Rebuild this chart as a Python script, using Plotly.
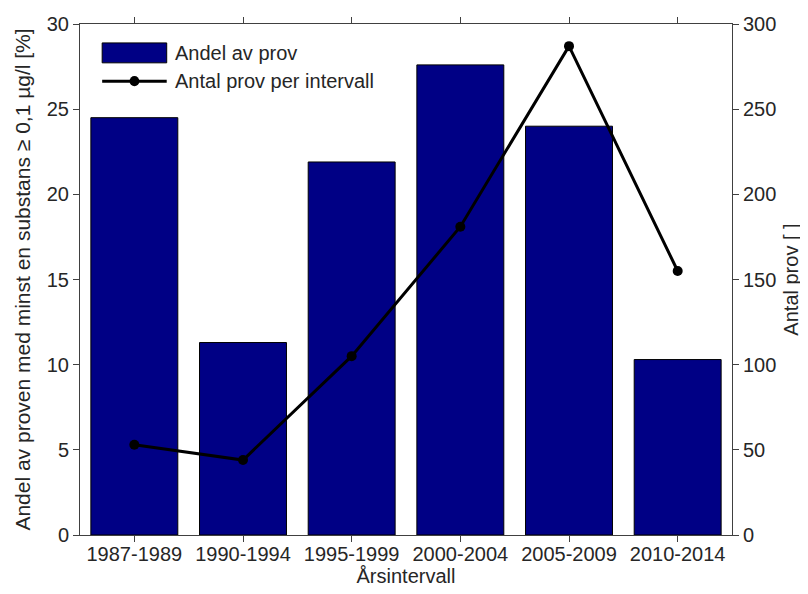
import plotly.graph_objects as go

# ---- data -------------------------------------------------------------------
intervals = [ '1987-1989', '1990-1994', '1995-1999', '2000-2004', '2005-2009', '2010-2014' ]
andel_pct = [ 24.5, 11.3, 21.9, 27.6, 24.0, 10.3 ]
antal_prov = [ 53, 44, 105, 181, 287, 155 ]

FONT = 'Liberation Sans, Arial, sans-serif'
TXT = '#262626'
AX = '#404040'
NAVY = '#000085'
FS = 20

fig = go.Figure( )

fig.add_bar(
  x = intervals,
  y = andel_pct,
  width = 0.8,
  marker = dict( color = NAVY, line = dict( color = 'black', width = 1 ) ),
  name = 'Andel av prov',
  showlegend = False
)

fig.add_scatter(
  x = intervals,
  y = antal_prov,
  yaxis = 'y2',
  mode = 'lines+markers',
  line = dict( color = 'black', width = 3 ),
  marker = dict( color = 'black', size = 10 ),
  name = 'Antal prov per intervall',
  showlegend = False
)

axis_common = dict(
  showline = True,
  linecolor = AX,
  linewidth = 1,
  ticks = 'outside',
  ticklen = 6,
  tickcolor = AX,
  showgrid = False,
  zeroline = False,
  automargin = False,
  tickfont = dict( family = FONT, size = FS, color = TXT ),
)

# page body has an 8px margin, so the figure is a little smaller than the window
fig.update_layout(
  width = 800,
  height = 586,
  margin = dict( l = 72, r = 76, t = 16, b = 59 ),
  paper_bgcolor = 'white',
  plot_bgcolor = 'white',
  font = dict( family = FONT, size = FS, color = TXT ),
  bargap = 0.2,
  xaxis = dict(
    **axis_common,
    mirror = 'ticks',
    ticklabelstandoff = -5,
    title = dict( text = 'Årsintervall', standoff = 0, font = dict( size = FS ) ),
  ),
  yaxis = dict(
    **axis_common,
    range = [ 0, 30 ],
    dtick = 5,
    title = dict( text = 'Andel av proven med minst en substans ≥ 0,1 µg/l [%]',
                  standoff = 10, font = dict( size = 21 ) ),
  ),
  yaxis2 = dict(
    **axis_common,
    overlaying = 'y',
    side = 'right',
    range = [ 0, 300 ],
    dtick = 50,
    title = dict( text = 'Antal prov [ ]', standoff = 8, font = dict( size = FS ) ),
  ),
)

# ---- legend drawn by hand (MATLAB-like wide symbols) -------------------------
fig.add_shape( type = 'rect', xref = 'paper', yref = 'paper',
  x0 = 0.034, x1 = 0.133, y0 = 0.924, y1 = 0.963,
  fillcolor = NAVY, line = dict( color = 'black', width = 1 ) )
fig.add_shape( type = 'line', xref = 'paper', yref = 'paper',
  x0 = 0.034, x1 = 0.133, y0 = 0.888, y1 = 0.888,
  line = dict( color = 'black', width = 3 ) )
fig.add_shape( type = 'circle', xref = 'paper', yref = 'paper',
  x0 = 0.076, x1 = 0.091, y0 = 0.878, y1 = 0.898,
  fillcolor = 'black', line = dict( color = 'black', width = 0 ) )
fig.add_annotation( xref = 'paper', yref = 'paper', x = 0.142, y = 0.944,
  text = 'Andel av prov', showarrow = False, xanchor = 'left', yanchor = 'middle',
  font = dict( family = FONT, size = FS, color = TXT ) )
fig.add_annotation( xref = 'paper', yref = 'paper', x = 0.142, y = 0.888,
  text = 'Antal prov per intervall', showarrow = False, xanchor = 'left', yanchor = 'middle',
  font = dict( family = FONT, size = FS, color = TXT ) )

fig.write_html( 'out.html' )
